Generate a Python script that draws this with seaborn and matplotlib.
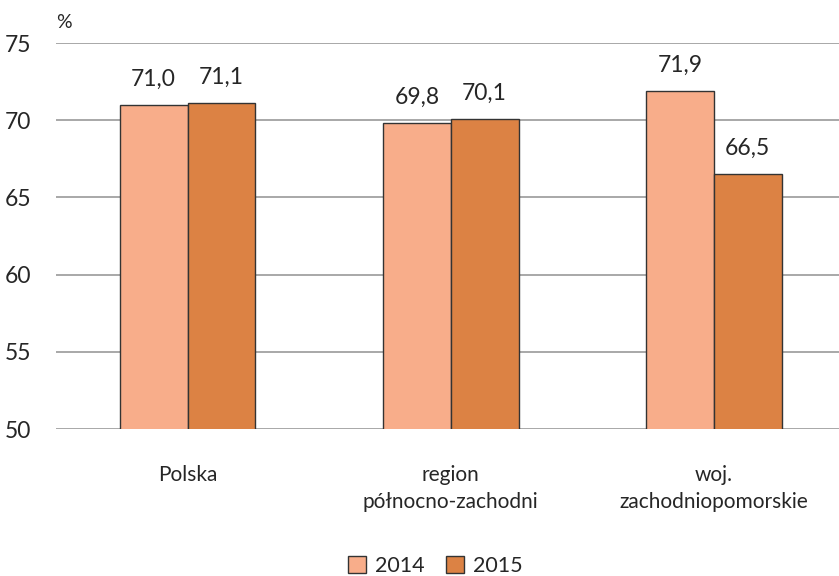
import matplotlib
matplotlib.use("Agg")
import matplotlib.pyplot as plt
import seaborn as sns
import pandas as pd

categories = ["Polska", "region\npółnocno-zachodni", "woj.\nzachodniopomorskie"]
years = ["2014", "2015"]
values_2014 = [71.0, 69.8, 71.9]
values_2015 = [71.1, 70.1, 66.5]
yticks = [50, 55, 60, 65, 70, 75]

df = pd.DataFrame({
    "cat": categories * 2,
    "year": [years[0]] * 3 + [years[1]] * 3,
    "val": values_2014 + values_2015,
})

sns.set_theme(style="white")
plt.rcParams["font.family"] = ["Lato", "DejaVu Sans"]

fig = plt.figure(figsize=(8.39, 5.76), dpi=100)
ax = fig.add_axes([0.0667, 0.2552, 0.9333, 0.6701])

palette = {"2014": "#F8AD8A", "2015": "#DC8244"}
sns.barplot(data=df, x="cat", y="val", hue="year", palette=palette, width=0.515,
            edgecolor="#333333", linewidth=1.0, saturation=1, ax=ax, zorder=3, gap=0)

ax.set_ylim(50, 75)
ax.set_xlim(-0.5, 2.475)
ax.set_yticks(yticks)
ax.set_yticklabels([str(t) for t in yticks], fontsize=16.5, color="#262626")
ax.yaxis.grid(True, color="#999999", linewidth=1.2, zorder=0)
ax.set_axisbelow(True)
for s in ax.spines.values():
    s.set_visible(False)
ax.tick_params(axis="y", length=0, pad=18)
ax.tick_params(axis="x", length=0, pad=26)
ax.set_xticks(range(len(categories)))
ax.set_xticklabels(categories, fontsize=15, color="#262626", linespacing=1.4)
ax.set_xlabel("")
ax.set_ylabel("")

for cont in ax.containers:
    labels = [f"{v:.1f}".replace(".", ",") for v in cont.datavalues]
    ax.bar_label(cont, labels=labels, padding=11, fontsize=16.5, color="#262626")

ax.text(0.0, 1.03, "%", transform=ax.transAxes, fontsize=14, color="#262626",
        ha="left", va="bottom")

leg = ax.legend(loc="lower center", bbox_to_anchor=(0.484, -0.43), ncol=2, frameon=False,
                fontsize=15.5, handlelength=0.85, handleheight=0.85, columnspacing=1.0,
                handletextpad=0.4)
for h in leg.legend_handles:
    h.set_edgecolor("#333333")
    h.set_linewidth(1.0)

fig.savefig("out.png", dpi=100)
